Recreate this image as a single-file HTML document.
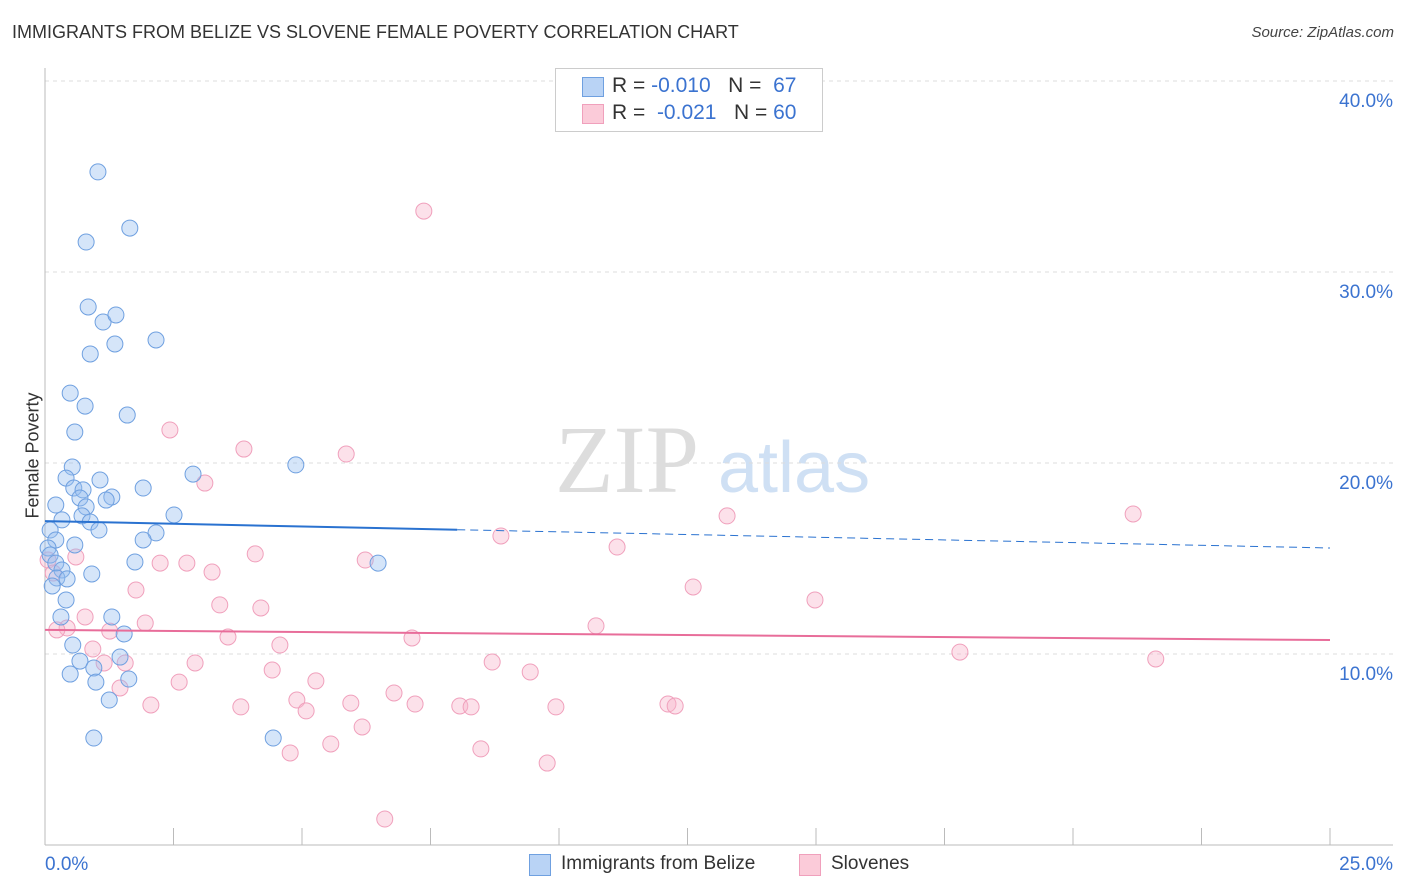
<!DOCTYPE html>
<html><head><meta charset="utf-8"><style>
body{margin:0;background:#fff;font-family:"Liberation Sans",sans-serif;}
#wrap{position:relative;width:1406px;height:892px;overflow:hidden}
.t{position:absolute;white-space:nowrap}
</style></head><body><div id="wrap">
<div class="t" style="left:12px;top:22px;font-size:18px;color:#333">IMMIGRANTS FROM BELIZE VS SLOVENE FEMALE POVERTY CORRELATION CHART</div>
<div class="t" style="right:12px;top:24px;font-size:15px;color:#444;font-style:italic">Source: ZipAtlas.com</div>
<div class="t" style="left:-30px;top:445px;font-size:18px;color:#333;transform:rotate(-90deg)">Female Poverty</div>
<svg id="svg" width="1406" height="892" style="position:absolute;left:0;top:0">
<text x="555" y="492" font-family="Liberation Serif,serif" font-size="96" fill="#ddd">ZIP</text>
<text x="718" y="492" font-family="Liberation Sans,sans-serif" font-size="72" fill="#cfe0f4">atlas</text>
</svg>
<div style="position:absolute;left:555px;top:68px;width:266px;height:62px;border:1px solid #ccc;background:#fff">
<div style="position:absolute;left:26px;top:8px;width:20px;height:18px;background:#b9d3f5;border:1px solid #6fa0e0"></div>
<div class="t" style="left:56px;top:5px;font-size:21px;color:#333">R = <span style="color:#3b73d0">-0.010</span>&nbsp;&nbsp;&nbsp;N = <span style="color:#3b73d0">&nbsp;67</span></div>
<div style="position:absolute;left:26px;top:35px;width:20px;height:18px;background:#fbcbd9;border:1px solid #f0a0bc"></div>
<div class="t" style="left:56px;top:32px;font-size:21px;color:#333">R = &nbsp;<span style="color:#3b73d0">-0.021</span>&nbsp;&nbsp;&nbsp;N = <span style="color:#3b73d0">60</span></div>
</div>
<div>
<div style="position:absolute;left:529px;top:854px;width:20px;height:20px;background:#b9d3f5;border:1px solid #6fa0e0"></div>
<div class="t" style="left:561px;top:853px;font-size:19px;color:#333">Immigrants from Belize</div>
<div style="position:absolute;left:799px;top:854px;width:20px;height:20px;background:#fbcbd9;border:1px solid #f0a0bc"></div>
<div class="t" style="left:831px;top:853px;font-size:19px;color:#333">Slovenes</div>
</div>
</div>
<script>
const yTicks=[10,20,30,40];
const xTickLabels=["0.0%","25.0%"];
const belizeX=[1.03,0.80,1.65,0.84,1.13,1.38,1.36,2.16,0.88,0.49,0.78,1.60,0.58,0.53,0.41,1.07,2.88,4.88,0.56,0.74,0.68,1.30,1.19,1.91,0.21,0.80,0.72,0.33,0.88,1.05,2.51,2.16,1.91,0.10,0.21,0.58,0.06,0.10,1.75,6.48,0.21,0.33,0.91,0.23,0.43,0.14,0.41,1.30,0.31,1.54,0.54,0.68,1.46,0.95,0.49,0.99,1.63,1.25,0.95,4.44];
const belizeY=[35.24,31.57,32.30,28.17,27.38,27.75,26.23,26.44,25.71,23.66,22.98,22.51,21.62,19.79,19.21,19.11,19.42,19.90,18.69,18.59,18.17,18.22,18.06,18.69,17.80,17.70,17.23,17.02,16.91,16.49,17.28,16.34,15.97,16.49,15.97,15.71,15.55,15.18,14.82,14.76,14.76,14.40,14.19,13.98,13.93,13.56,12.83,11.94,11.94,11.05,10.47,9.63,9.84,9.27,8.95,8.53,8.69,7.59,5.60,5.60];
const sloveneX=[7.37,2.43,3.87,5.86,3.11,13.27,21.17,8.87,11.13,0.60,0.06,4.09,6.23,2.24,2.76,3.25,0.16,1.77,12.61,14.98,3.40,4.20,0.78,1.95,0.43,0.23,1.26,10.72,3.56,7.14,4.57,0.93,17.80,21.61,1.15,1.56,2.92,4.42,8.70,9.44,5.27,2.61,1.46,6.79,4.90,2.06,3.81,5.95,5.08,7.20,8.07,8.29,9.94,12.12,12.26,6.17,5.56,4.77,8.48,9.77,6.61];
const sloveneY=[33.19,21.73,20.73,20.47,18.95,17.23,17.33,16.18,15.60,15.08,14.92,15.24,14.92,14.76,14.76,14.29,14.24,13.35,13.51,12.83,12.57,12.41,11.94,11.62,11.36,11.26,11.20,11.47,10.89,10.84,10.47,10.26,10.10,9.74,9.53,9.53,9.53,9.16,9.58,9.06,8.59,8.53,8.22,7.96,7.59,7.33,7.23,7.43,7.02,7.38,7.28,7.23,7.23,7.38,7.28,6.18,5.29,4.82,5.03,4.29,1.36];
const belizeTrend=[16.96,15.55];
const sloveneTrend=[11.26,10.73];
const xs=v=>45+v*51.4, ys=v=>845-v*19.1;
const svg=document.getElementById('svg'),NS="http://www.w3.org/2000/svg";
function mk(t,a){const e=document.createElementNS(NS,t);for(const k in a)e.setAttribute(k,a[k]);svg.appendChild(e);return e;}
yTicks.forEach(v=>{
 const l=mk('line',{x1:45,x2:1393,y1:ys(v),y2:ys(v),stroke:'#ddd','stroke-dasharray':'4,4'});
 
 
 const t=mk('text',{x:1393,y:ys(v)+26,'text-anchor':'end','font-size':19,fill:'#3b73d0','font-family':'Liberation Sans,sans-serif'});
 t.textContent=v.toFixed(1)+'%';
 
 
});
const ax=mk('line',{x1:45,x2:45,y1:68,y2:845,stroke:'#bbb'});


const bx=mk('line',{x1:45,x2:1393,y1:845,y2:845,stroke:'#bbb'});


for(let i=0;i<=10;i++){const tk=mk('line',{x1:xs(i*2.5),x2:xs(i*2.5),y1:828,y2:845,stroke:'#bbb'});
 
 }
[[0,'start',45],[25,'end',1393]].forEach((p,i)=>{const t=mk('text',{x:p[2],y:870,'text-anchor':p[1],'font-size':19,fill:'#3b73d0','font-family':'Liberation Sans,sans-serif'});t.textContent=xTickLabels[i];
 
 });
function pts(X,Y,f,s,n){X.forEach((x,i)=>{const c=mk('circle',{cx:xs(x),cy:ys(Y[i]),r:8,fill:f,stroke:s,'stroke-width':1});
 
 });}
pts(sloveneX,sloveneY,'rgba(248,180,203,0.4)','#f0a0bc','slovene-point');
pts(belizeX,belizeY,'rgba(150,190,240,0.4)','#6fa0e0','belize-point');
const bxEnd=8.02,by=t=>belizeTrend[0]+(belizeTrend[1]-belizeTrend[0])*t/25;
const l1=mk('line',{x1:xs(0),y1:ys(by(0)),x2:xs(bxEnd),y2:ys(by(bxEnd)),stroke:'#2a72d0','stroke-width':2});


const l2=mk('line',{x1:xs(bxEnd),y1:ys(by(bxEnd)),x2:xs(25),y2:ys(by(25)),stroke:'#2a72d0','stroke-width':1,'stroke-dasharray':'8,5'});


const l3=mk('line',{x1:xs(0),y1:ys(sloveneTrend[0]),x2:xs(25),y2:ys(sloveneTrend[1]),stroke:'#e86d9a','stroke-width':2});


</script></body></html>
